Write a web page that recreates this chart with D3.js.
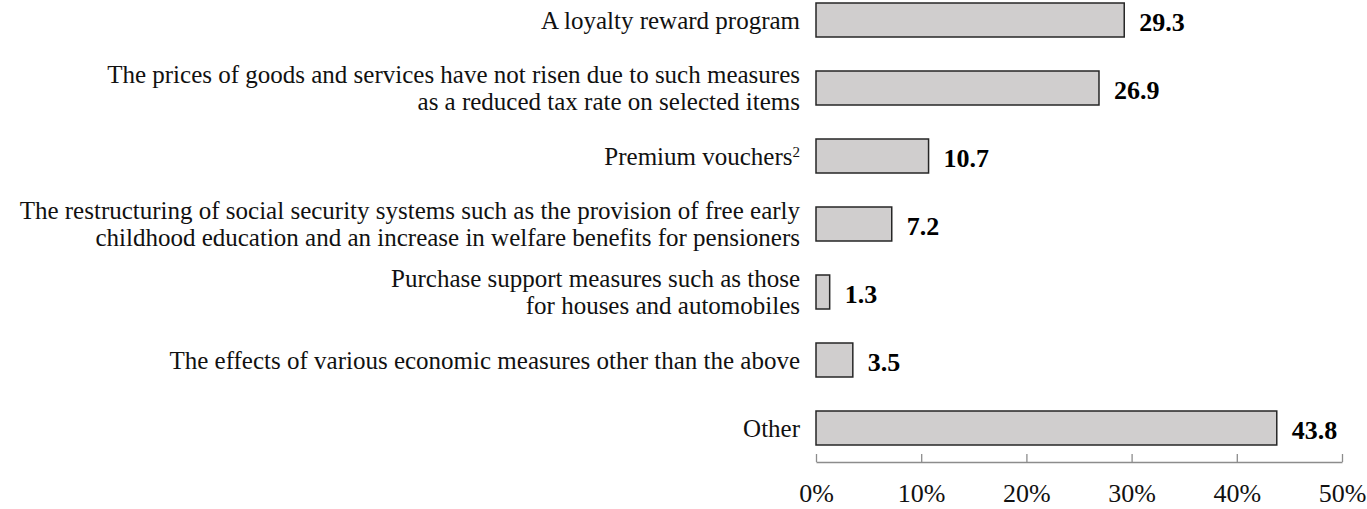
<!DOCTYPE html>
<html>
<head>
<meta charset="utf-8">
<script src="https://cdn.jsdelivr.net/npm/d3@7"></script>
<style>
  body { margin: 0; background: #fff; }
  svg text { font-family: "Liberation Serif", "Times New Roman", serif; }
</style>
</head>
<body>
<svg width="1367" height="509"></svg>
<script>
// each category is a list of label lines
const categories = [
    ['A loyalty reward program'],
    ['The prices of goods and services have not risen due to such measures', 'as a reduced tax rate on selected items'],
    ['Premium vouchers'],
    ['The restructuring of social security systems such as the provision of free early', 'childhood education and an increase in welfare benefits for pensioners'],
    ['Purchase support measures such as those', 'for houses and automobiles'],
    ['The effects of various economic measures other than the above'],
    ['Other']
]
const values = [29.3, 26.9, 10.7, 7.2, 1.3, 3.5, 43.8]
const superscripts = ['', '', '2', '', '', '', '']
const tickValues = [0, 10, 20, 30, 40, 50]

const svg = d3.select('svg')
const margin = { top: 0, left: 816, right: 25 },
      chartWidth = +svg.attr('width') - margin.left - margin.right

const chart = svg.append('g')
    .attr('transform', `translate(${margin.left},${margin.top})`)

const xScale = d3.scaleLinear()
    .domain([0, 50])
    .range([0, chartWidth])

const yScale = d3.scaleBand()
    .domain(d3.range(categories.length))
    .range([3, 445])
    .paddingInner(0.5)
    .paddingOuter(0)

const rows = chart.selectAll('g.row')
    .data(values)
    .join('g')
    .attr('class', 'row')
    .attr('transform', (d, i) => `translate(0,${yScale(i)})`)

rows.append('rect')
    .attr('x', 0)
    .attr('y', 0)
    .attr('width', d => xScale(d))
    .attr('height', yScale.bandwidth())
    .attr('fill', '#d0cece')
    .attr('stroke', '#262626')
    .attr('stroke-width', 1.5)

rows.append('text')
    .attr('x', d => xScale(d) + 15)
    .attr('y', yScale.bandwidth() / 2 + 2)
    .attr('dy', '0.35em')
    .attr('font-size', 26)
    .attr('font-weight', 'bold')
    .text(d => d.toFixed(1))

// category labels
const lineGap = 27
rows.each(function (d, i) {
    const lines = categories[i]
    const t = d3.select(this).append('text')
        .attr('text-anchor', 'end')
        .attr('font-size', 25)
        .attr('fill', '#111')
    lines.forEach((line, j) => {
        const y = yScale.bandwidth() / 2 + (j - (lines.length - 1) / 2) * lineGap
        t.append('tspan')
            .attr('x', -16)
            .attr('y', y)
            .attr('dy', '0.35em')
            .text(line)
        if (superscripts[i] && j === lines.length - 1) {
            t.append('tspan')
                .attr('dy', '-0.55em')
                .attr('font-size', 15)
                .text(superscripts[i])
        }
    })
})

const xAxis = d3.axisBottom(xScale)
    .tickValues(tickValues)
    .tickFormat(d => d + '%')
    .tickSize(0)
    .tickPadding(0)

const axis = chart.append('g')
    .attr('transform', 'translate(0,462)')
    .call(xAxis)
axis.select('.domain').attr('stroke', '#8c8c8c').attr('stroke-width', 1.3)
axis.selectAll('.tick').append('line')
    .attr('y1', 0)
    .attr('y2', -8)
    .attr('stroke', '#8c8c8c')
    .attr('stroke-width', 1.3)
axis.selectAll('.tick text')
    .attr('y', 31)
    .attr('dy', '0.35em')
    .attr('font-size', 26)
    .attr('fill', '#111')
    .style('font-family', '"Liberation Serif", "Times New Roman", serif')
</script>
</body>
</html>
